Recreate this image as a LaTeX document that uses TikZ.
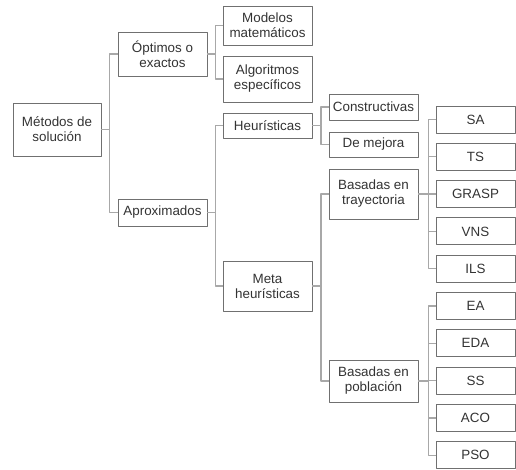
\documentclass[tikz,border=0pt]{standalone}
\usepackage{fontspec}
\setmainfont{Liberation Sans}
\usetikzlibrary{positioning}
\definecolor{boxgray}{HTML}{707070}
\definecolor{linegray}{HTML}{A8A8A8}
\definecolor{txtgray}{HTML}{333333}

\begin{document}
\begin{tikzpicture}[line cap=round,line join=round,x=1pt,y=-1pt,
  box/.style={draw=boxgray,line width=0.9pt,text=txtgray,align=center,
    minimum width=89pt,inner sep=0pt,font=\fontsize{13.4}{15}\selectfont},
  leaf/.style={box,minimum width=79pt,minimum height=27pt},
  conn/.style={draw=linegray,line width=1.4pt,line cap=butt}]
\useasboundingbox (0,0) rectangle (516,470);
\node [box,minimum width=88pt,minimum height=53pt] (met) at (57,129.5) {Métodos de\\solución};
\node [box,minimum height=44pt] (opt) at (162.5,54) {Óptimos o\\exactos};
\node [box,minimum height=27pt] (apr) at (162.5,212.5) {Aproximados};
\node [box,minimum height=39pt] (mod) at (267.5,25.5) {Modelos\\matemáticos};
\node [box,minimum height=46pt] (alg) at (267.5,79) {Algoritmos\\específicos};
\node [box,minimum height=25pt] (heu) at (267.5,125.5) {Heurísticas};
\node [box,minimum height=50pt] (meta) at (267.5,286) {Meta\\heurísticas};
\node [box,minimum height=26pt] (con) at (373.5,107) {Constructivas};
\node [box,minimum height=25pt] (dem) at (373.5,144.5) {De mejora};
\node [box,minimum height=50pt] (tra) at (373.5,194) {Basadas en\\trayectoria};
\node [box,minimum height=42pt] (pob) at (373.5,381) {Basadas en\\población};
\foreach \lbl [count=\i from 0] in {SA,TS,GRASP,VNS,ILS,EA,EDA,SS,ACO,PSO}
  \node [leaf] (l\i) at (475.5,{119.5+37.3*\i}) {\lbl};
% connectors
\foreach \c in {opt,apr} \draw [conn] (met.east) -- ++(8,0) |- (\c.west);
\foreach \c in {mod,alg} \draw [conn] (opt.east) -- ++(8,0) |- (\c.west);
\foreach \c in {heu,meta} \draw [conn] (apr.east) -- ++(8,0) |- (\c.west);
\foreach \c in {con,dem} \draw [conn] (heu.east) -- ++(8.5,0) |- (\c.west);
\foreach \c in {tra,pob} \draw [conn] (meta.east) -- ++(8.5,0) |- (\c.west);
\foreach \i in {0,...,4} \draw [conn] (tra.east) -- ++(10,0) |- (l\i.west);
\foreach \i in {5,...,9} \draw [conn] (pob.east) -- ++(10,0) |- (l\i.west);
\end{tikzpicture}
\end{document}
